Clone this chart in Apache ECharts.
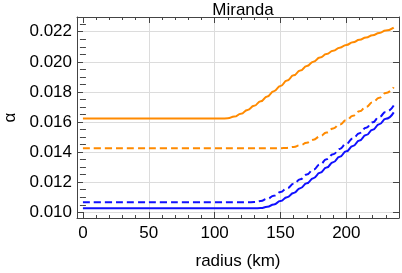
<!DOCTYPE html>
<html><head><meta charset="utf-8">
<script src="https://cdn.jsdelivr.net/npm/echarts@6/dist/echarts.min.js"></script>
<style>html,body{margin:0;padding:0;background:#fff}#c{width:402px;height:273px}</style>
</head><body><div id="c"></div>
<script>
const radius = [0, 20, 40, 60, 80, 100, 105, 110, 115, 120, 125, 130, 135, 140, 145, 150, 155, 160, 165, 170, 175, 180, 185, 190, 195, 200, 205, 210, 215, 220, 225, 230, 236];
const orangeSolid = [0.01623,0.01623,0.01623,0.01623,0.01623,0.01623,0.01623,0.01625,0.01636,0.01655,0.01680,0.01708,0.01738,0.01770,0.01805,0.01840,0.01876,0.01910,0.01942,0.01972,0.02001,0.02028,0.02052,0.02074,0.02094,0.02112,0.02130,0.02146,0.02162,0.02177,0.02192,0.02208,0.02227];
const orangeDashed = [0.01426,0.01426,0.01426,0.01426,0.01426,0.01426,0.01426,0.01426,0.01426,0.01426,0.01426,0.01426,0.01426,0.01426,0.01426,0.01426,0.01428,0.01434,0.01446,0.01462,0.01482,0.01505,0.01530,0.01557,0.01584,0.01612,0.01641,0.01671,0.01701,0.01731,0.01761,0.01793,0.01831];
const blueDashed = [0.01066,0.01066,0.01066,0.01066,0.01066,0.01066,0.01066,0.01066,0.01066,0.01066,0.01066,0.01068,0.01075,0.01090,0.01110,0.01134,0.01160,0.01189,0.01219,0.01251,0.01284,0.01318,0.01352,0.01386,0.01421,0.01456,0.01491,0.01526,0.01562,0.01598,0.01634,0.01667,0.01710];
const blueSolid = [0.01027,0.01027,0.01027,0.01027,0.01027,0.01027,0.01027,0.01027,0.01027,0.01027,0.01027,0.01027,0.01028,0.01036,0.01052,0.01075,0.01100,0.01128,0.01160,0.01193,0.01227,0.01262,0.01297,0.01333,0.01369,0.01405,0.01441,0.01477,0.01513,0.01549,0.01585,0.01621,0.01664];
const xMajor = [0, 50, 100, 150, 200];
const xMinor = [10,20,30,40,60,70,80,90,110,120,130,140,160,170,180,190,210,220,230];
const xGrid = [50, 100, 150, 200];
const yMajor = [0.010, 0.012, 0.014, 0.016, 0.018, 0.020, 0.022];
const yMinor = [0.0105,0.011,0.0115,0.0125,0.013,0.0135,0.0145,0.015,0.0155,0.0165,0.017,0.0175,0.0185,0.019,0.0195,0.0205,0.021,0.0215,0.0225];

const FONT = 'Liberation Sans';
const FS = 17;
const frameColor = '#444';
const XMIN = -4.5, XMAX = 240, YMIN = 0.00962, YMAX = 0.02298;
function xa(o){ return Object.assign({type:'value', min:XMIN, max:XMAX, gridIndex:0, splitLine:{show:false}, axisLine:{show:false}, axisLabel:{show:false}, axisTick:{show:false}}, o); }
function ya(o){ return Object.assign({type:'value', min:YMIN, max:YMAX, gridIndex:0, splitLine:{show:false}, axisLine:{show:false}, axisLabel:{show:false}, axisTick:{show:false}}, o); }
const line = (data, color, dashed) => ({
  type:'line', xAxisIndex:0, yAxisIndex:0, showSymbol:false, smooth:true, smoothMonotone:'x',
  data: radius.map((r,i)=>[r, data[i]]),
  lineStyle:{color, width:2, type: dashed ? [7,4] : 'solid'}, silent:true, animation:false
});
const chart = echarts.init(document.getElementById('c'), null, {renderer:'canvas'});
chart.setOption({
  animation:false,
  backgroundColor:'#fff',
  title:{text:'Miranda', left:238, top:-3, textAlign:'center', textStyle:{fontFamily:FONT, fontSize:FS, fontWeight:'normal', color:'#000'}},
  grid:{left:77, right:3, top:17, bottom:55, containLabel:false, outerBoundsMode:'none'},
  xAxis:[
    xa({position:'bottom', axisLine:{show:true, onZero:false, lineStyle:{color:frameColor, width:1}},
        axisTick:{show:true, inside:true, length:6, customValues:xMajor, lineStyle:{color:frameColor}},
        axisLabel:{show:true, customValues:xMajor, margin:7, fontFamily:FONT, fontSize:FS, color:'#000'},
        name:'radius (km)', nameLocation:'middle', nameGap:35, nameTextStyle:{fontFamily:FONT, fontSize:FS, color:'#000'}}),
    xa({position:'bottom', axisTick:{show:true, inside:true, length:3, customValues:xMinor, lineStyle:{color:frameColor}}}),
    xa({position:'top', axisLine:{show:true, onZero:false, lineStyle:{color:frameColor, width:1}},
        axisTick:{show:true, inside:true, length:6, customValues:xMajor, lineStyle:{color:frameColor}}}),
    xa({position:'top', axisTick:{show:true, inside:true, length:3, customValues:xMinor, lineStyle:{color:frameColor}}}),
    xa({position:'bottom', axisTick:{show:false, customValues:xGrid}, splitLine:{show:true, lineStyle:{color:'#dcdcdc', width:1}}})
  ],
  yAxis:[
    ya({position:'left', axisLine:{show:true, onZero:false, lineStyle:{color:frameColor, width:1}},
        axisTick:{show:true, inside:true, length:6, customValues:yMajor, lineStyle:{color:frameColor}},
        axisLabel:{show:true, customValues:yMajor, margin:5, fontFamily:FONT, fontSize:FS, color:'#000', formatter:v=>v.toFixed(3)},
        name:'α', nameLocation:'middle', nameRotate:90, nameGap:58, nameTextStyle:{fontFamily:FONT, fontSize:FS, color:'#000'}}),
    ya({position:'left', axisTick:{show:true, inside:true, length:3, customValues:yMinor, lineStyle:{color:frameColor}}}),
    ya({position:'right', axisLine:{show:true, onZero:false, lineStyle:{color:frameColor, width:1}},
        axisTick:{show:true, inside:true, length:6, customValues:yMajor, lineStyle:{color:frameColor}}}),
    ya({position:'right', axisTick:{show:true, inside:true, length:3, customValues:yMinor, lineStyle:{color:frameColor}}}),
    ya({position:'left', axisTick:{show:false, customValues:yMajor}, splitLine:{show:true, lineStyle:{color:'#dcdcdc', width:1}}})
  ],
  series:[
    line(orangeSolid, '#ff8a00', false),
    line(orangeDashed, '#ff8a00', true),
    line(blueDashed, '#1010ff', true),
    line(blueSolid, '#1010ff', false)
  ]
});
</script></body></html>
